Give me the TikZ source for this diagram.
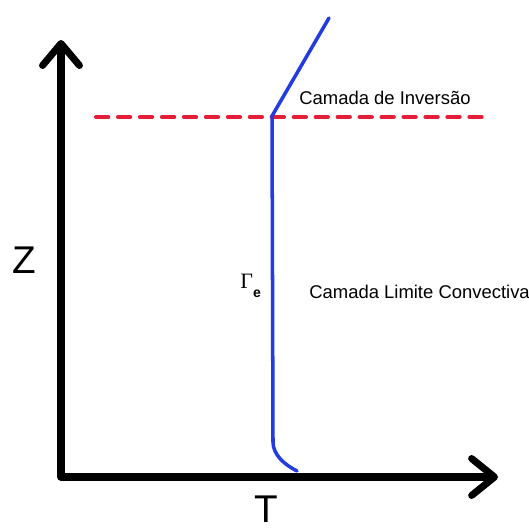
\documentclass[tikz,border=0pt]{standalone}
\usepackage{fontspec}
\setmainfont{Liberation Sans}
\newfontfamily\timesfont{Liberation Serif}
\usetikzlibrary{arrows.meta}
\definecolor{ProfBlue}{RGB}{35,60,225}
\definecolor{InvRed}{RGB}{228,30,55}
\tikzset{
	axis/.style={line width=4pt,line join=round,
		{Straight Barb[length=12.5pt,width=21pt,line cap=round,round]}-{Straight Barb[length=13pt,width=21pt,line cap=round,round]}},
	profile/.style={draw=ProfBlue,line width=2pt,line cap=round},
	inversion/.style={draw=InvRed,line width=2.3pt,dash pattern=on 7pt off 5.5pt,line cap=round},
	lbl/.style={font=\fontsize{10.5}{12}\selectfont,inner sep=0pt,anchor=base west},
	axlbl/.style={inner sep=0pt,anchor=base},
}

\begin{document}
\begin{tikzpicture}[x=0.02cm,y=-0.02cm]
	\useasboundingbox (0,0) rectangle (528,530);
	% axes
	\coordinate (ztip) at (61,40);
	\coordinate (O) at (61,477);
	\coordinate (ttip) at (498,477);
	\draw[axis] (ztip) -- (O) -- (ttip);
	\node[axlbl,font=\fontsize{22}{24}\selectfont] (zlab) at (24,273) {Z};
	\node[axlbl,font=\fontsize{22}{24}\selectfont] (tlab) at (266,522) {T};
	% inversion layer
	\coordinate (invl) at (96,117);
	\coordinate (invr) at (484,117);
	\draw[inversion] (invl) -- (invr);
	\node[lbl] (inv) at (299,105) {Camada de Inversão};
	% temperature profile
	\coordinate (sfc) at (297,471);
	\coordinate (bend) at (273,442);
	\coordinate (top) at (272,116);
	\coordinate (free) at (329,18);
	\draw[profile] (sfc) .. controls (285,465) and (273,455) .. (bend) -- (top) -- (free);
	\node[lbl] (clc) at (309,298) {Camada Limite Convectiva};
	\node[inner sep=0pt,anchor=base west] (gam) at (240,288)
		{{\timesfont\fontsize{12.5}{14}\selectfont\char"0393}\raisebox{-1ex}{\fontsize{8}{9}\selectfont\bfseries e}};
\end{tikzpicture}
\end{document}
